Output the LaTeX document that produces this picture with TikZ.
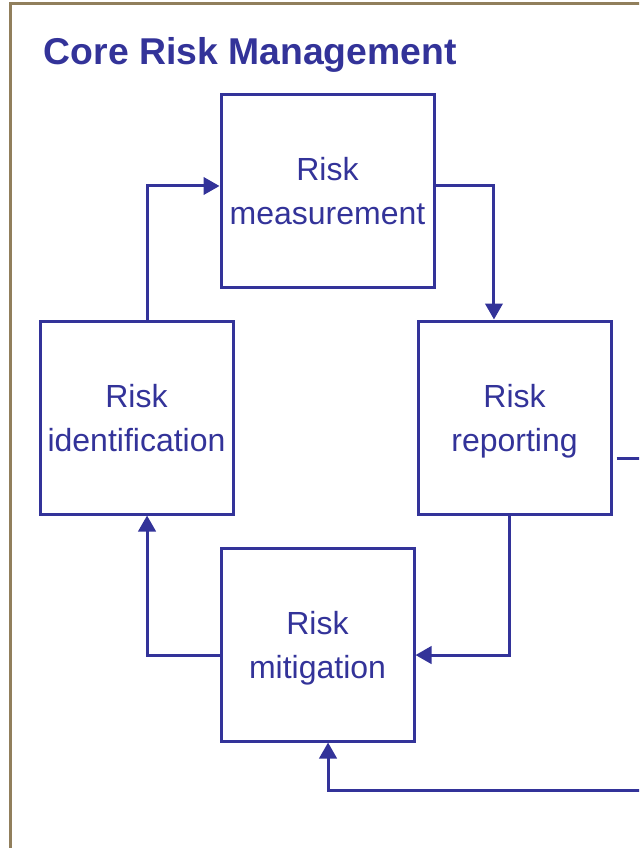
\documentclass[tikz,border=0pt]{standalone}
\usepackage{fontspec}
\setmainfont{Liberation Sans}
\usetikzlibrary{arrows.meta, positioning}
\definecolor{riskblue}{RGB}{51,51,153}
\definecolor{frametan}{RGB}{145,127,92}

\begin{document}
\begin{tikzpicture}[
          x=0.75pt, y=-0.75pt,
          stage/.style={
              draw=riskblue,
              line width=2.25pt,
              text=riskblue,
              minimum width=144.75pt,
              minimum height=144.75pt,
              inner sep=0pt,
              text depth=0pt,
              font=\fontsize{24}{33}\selectfont,
              align=center
            },
          flow/.style={-{Triangle[length=12pt, width=13pt]}, riskblue, line width=2.25pt}
        ]
        \useasboundingbox (0,0) rectangle (639,848);
        \clip (0,0) rectangle (639,848);
        \draw[frametan, line width=2.25pt] (10,4) rectangle (700,900);
        \node[anchor=base west, inner sep=0pt, text=riskblue,
              font=\fontsize{28}{34}\selectfont\bfseries] (title) at (43.5,65) {Core Risk Management};

        \node[stage, minimum width=159.75pt] (measure) at (327.5,191) {Risk\\measurement};
        \node[stage] (ident) at (136.5,417.5) {Risk\\identification};
        \node[stage] (report) at (514.5,417.5) {Risk\\reporting};
        \node[stage] (mitig) at (317.5,644.5) {Risk\\mitigation};

        \coordinate (outside) at (690,790);
        \draw[flow] ([xshift=7.9pt]ident.north) |- ([yshift=3.75pt]measure.west);
        \draw[flow] ([yshift=3.75pt]measure.east) -| ([xshift=-15.4pt]report.north);
        \draw[flow] ([xshift=-3.4pt]report.south) |- ([yshift=-7.9pt]mitig.east);
        \draw[flow] ([yshift=-7.9pt]mitig.west) -| ([xshift=7.9pt]ident.south);
        \draw[flow, shorten <=3pt] ([yshift=-30.4pt]report.east) -| (outside) -| ([xshift=7.9pt]mitig.south);
      \end{tikzpicture}
\end{document}
